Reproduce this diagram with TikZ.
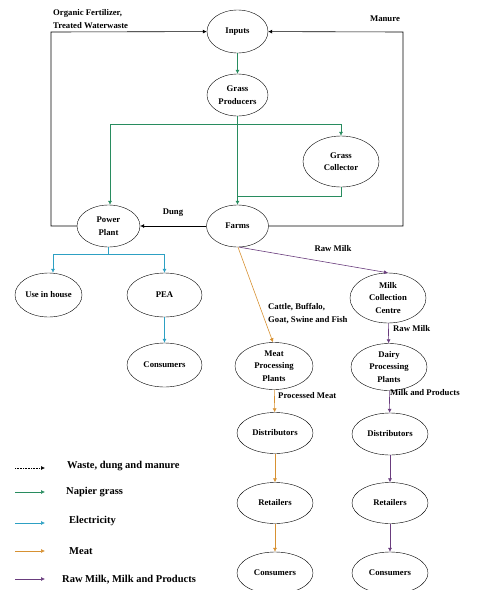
\documentclass[tikz,border=0pt]{standalone}
\usepackage{fontspec}
\setmainfont{Liberation Serif}
\usetikzlibrary{shapes.geometric,arrows.meta}
\definecolor{cgreen}{RGB}{40,140,95}
\definecolor{cblue}{RGB}{45,160,195}
\definecolor{corange}{RGB}{215,145,50}
\definecolor{cpurple}{RGB}{105,60,125}
\tikzset{
  bub/.style={draw, ellipse, inner sep=0pt, align=center, font=\bfseries\fontsize{8.7}{12.5}\selectfont},
  lab/.style={inner sep=0pt, align=left, font=\bfseries\fontsize{8.7}{13}\selectfont},
  leg/.style={inner sep=0pt, align=left, font=\bfseries\fontsize{10.5}{13}\selectfont},
  tip/.style={-{Latex[length=4pt,width=4pt]}},
  ln/.style={line width=0.6pt},
}
\begin{document}
\begin{tikzpicture}[x=1pt,y=-1pt]
\useasboundingbox (0,0) rectangle (484,590);
% nodes
\node[bub, minimum width=61, minimum height=43] (inputs) at (237.5,31.5) {Inputs};
\node[bub, minimum width=61, minimum height=42] (gp) at (237.5,95) {Grass\\Producers};
\node[bub, minimum width=76, minimum height=51] (gc) at (341,161.5) {Grass\\Collector};
\node[bub, minimum width=63, minimum height=42] (pp) at (108.5,226) {Power\\Plant};
\node[bub, minimum width=62, minimum height=42] (farms) at (237.5,226) {Farms};
\node[bub, minimum width=67, minimum height=44] (uih) at (48.5,295) {Use in house};
\node[bub, minimum width=75, minimum height=44] (pea) at (164.5,295) {PEA};
\node[bub, minimum width=75, minimum height=44] (cons1) at (164.5,365) {Consumers};
\node[bub, minimum width=76, minimum height=50] (mcc) at (388,298) {Milk\\Collection\\Centre};
\node[bub, minimum width=78, minimum height=47] (meat) at (274,366) {Meat\\Processing\\Plants};
\node[bub, minimum width=76, minimum height=47] (dpp) at (389,367) {Dairy\\Processing\\Plants};
\node[bub, minimum width=76, minimum height=41] (dist1) at (275,433) {Distributors};
\node[bub, minimum width=76, minimum height=42] (dist2) at (390,434) {Distributors};
\node[bub, minimum width=76, minimum height=41] (ret1) at (275,503) {Retailers};
\node[bub, minimum width=76, minimum height=41] (ret2) at (390,503) {Retailers};
\node[bub, minimum width=76, minimum height=42] (cons2) at (275,573) {Consumers};
\node[bub, minimum width=76, minimum height=42] (cons3) at (390,573) {Consumers};
% coordinates
\coordinate (gj) at (237.5,124);
\coordinate (gl) at (110,124);
\coordinate (gr) at (341,124);
\coordinate (gcb) at (341,196);
\coordinate (gm) at (237.5,196);
\coordinate (lb) at (51,226);
\coordinate (lt) at (51,32);
\coordinate (rb) at (403,226);
\coordinate (rt) at (403,32);
\coordinate (bj) at (108.5,254);
\coordinate (bl) at (53,254);
\coordinate (br) at (164.5,254);
% green
\draw[ln, cgreen, tip] (inputs) -- (gp);
\draw[ln, cgreen] (gp) -- (gj);
\draw[ln, cgreen] (gl) -- (gr);
\draw[ln, cgreen, tip] (gl) -- (gl |- pp.north);
\draw[ln, cgreen, tip] (gr) -- (gc);
\draw[ln, cgreen, tip] (gj) -- (farms);
\draw[ln, cgreen] (gc) -- (gcb) -- (gm);
% black loops
\draw[ln, tip] (farms) -- (pp);
\draw[ln, tip] (pp) -- (lb) -- (lt) -- (inputs);
\draw[ln, tip] (farms) -- (rb) -- (rt) -- (inputs);
% blue
\draw[ln, cblue] (pp) -- (bj);
\draw[ln, cblue] (bl) -- (br);
\draw[ln, cblue, tip] (bl) -- (bl |- uih.north);
\draw[ln, cblue, tip] (br) -- (pea);
\draw[ln, cblue, tip] (pea) -- (cons1);
% orange
\draw[ln, corange, tip] ([xshift=0.5pt]farms.south) -- ([xshift=-1pt]meat.north);
\draw[ln, corange, tip] (meat) -- (dist1);
\draw[ln, corange, tip] (dist1) -- (ret1);
\draw[ln, corange, tip] (ret1) -- (cons2);
% purple
\draw[ln, cpurple, tip] ([xshift=2pt]farms.south) -- (mcc.north);
\draw[ln, cpurple, tip] (mcc) -- (dpp);
\draw[ln, cpurple, tip] (dpp) -- (dist2);
\draw[ln, cpurple, tip] (dist2) -- (ret2);
\draw[ln, cpurple, tip] (ret2) -- (cons3);
% labels
\node[lab, anchor=west] (l1) at (53,19) {Organic Fertilizer,\\Treated Waterwaste};
\node[lab] (l2) at (385,19) {Manure};
\node[lab] (l3) at (173,213) {Dung};
\node[lab] (l4) at (333,249) {Raw Milk};
\node[lab, anchor=west] (l5) at (268,313.5) {Cattle, Buffalo,\\Goat, Swine and Fish};
\node[lab, anchor=west] (l6) at (393,329) {Raw Milk};
\node[lab, anchor=west] (l7) at (278,396) {Processed Meat};
\node[lab, anchor=west] (l8) at (390,393) {Milk and Products};
% legend
\coordinate (a1) at (15,468); \coordinate (b1) at (45,468);
\coordinate (a2) at (15,492); \coordinate (b2) at (45,492);
\coordinate (a3) at (15,523); \coordinate (b3) at (45,523);
\coordinate (a4) at (15,551); \coordinate (b4) at (45,551);
\coordinate (a5) at (15,579); \coordinate (b5) at (45,579);
\draw[ln, tip, densely dotted] (a1) -- (b1);
\draw[ln, tip, cgreen] (a2) -- (b2);
\draw[ln, tip, cblue] (a3) -- (b3);
\draw[ln, tip, corange] (a4) -- (b4);
\draw[ln, tip, cpurple] (a5) -- (b5);
\node[leg, anchor=west] (g1) at (67,466) {Waste, dung and manure};
\node[leg, anchor=west] (g2) at (66,492) {Napier grass};
\node[leg, anchor=west] (g3) at (69,521) {Electricity};
\node[leg, anchor=west] (g4) at (69,551) {Meat};
\node[leg, anchor=west] (g5) at (62,580) {Raw Milk, Milk and Products};
\end{tikzpicture}
\end{document}
